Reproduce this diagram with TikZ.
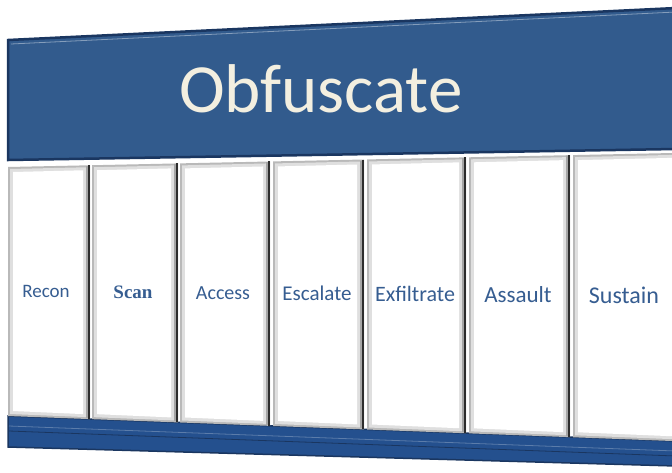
\documentclass[tikz,border=0pt]{standalone}
\usepackage{fontspec}
\setmainfont{Carlito}
\newfontfamily\labelfont{Carlito}
\newfontfamily\scanfont[UprightFont=*-Bold]{Liberation Serif}
\usepackage{xcolor}
\usetikzlibrary{calc}

\definecolor{bannerblue}{RGB}{50,91,141}
\definecolor{banneredge}{RGB}{26,54,96}
\definecolor{baseblue}{RGB}{36,80,142}
\definecolor{labelblue}{RGB}{54,93,145}
\definecolor{cream}{RGB}{243,239,224}

\begin{document}
\begin{tikzpicture}[x=1pt,y=-1pt]
  \tikzstyle{frame}=[fill=gray!55]
  \tikzstyle{face}=[fill=white]
  \tikzstyle{shadow}=[draw=gray!35!black, line width=2.2pt]
  \tikzstyle{phase}=[text=labelblue, inner sep=0pt, anchor=base]
\clip (0,0) rectangle (672,472);
\useasboundingbox (0,0) rectangle (672,472);
% header bar
\fill[bannerblue, draw=banneredge, line width=2.5pt] (8,40) -- (676,8) -- (676,149) -- (8,160) -- cycle;
\draw[bannerblue!60!white, line width=0.8pt] (11,44) -- (676,12);
\node[text=cream, anchor=base, font=\fontsize{69}{69}\selectfont] (title) at (321,112) {Obfuscate};
% foot bar
\fill[baseblue, draw=banneredge, line width=1.5pt] (8,416) -- (676,441) -- (676,466) -- (8,447) -- cycle;
\draw[baseblue!75!white, line width=0.8pt] (9,426) -- (676,451);
\draw[banneredge, line width=0.8pt] (9,431) -- (676,456);
\foreach \xl/\xr/\lx/\ly/\fs/\ff/\lbl [count=\i] in {
    8/90/46/297/19/labelfont/Recon,
    92/178/133/298/19/scanfont/Scan,
    180/270/223/299/20/labelfont/Access,
    273/364/317/300/21/labelfont/Escalate,
    367/466/415/301/22/labelfont/Exfiltrate,
    469/570/518/302/23/labelfont/Assault,
    573/684/624/303/24/labelfont/Sustain}{
    \pgfmathsetmacro\tl{167-0.02108*(\xl-8)}
    \pgfmathsetmacro\tr{167-0.02108*(\xr-8)}
    \pgfmathsetmacro\bl{416+0.03765*(\xl-8)}
    \pgfmathsetmacro\br{416+0.03765*(\xr-8)}
    \fill[frame] (\xl,\tl) -- (\xr,\tr) -- (\xr,\br) -- (\xl,\bl) -- cycle;
    \fill[gray!25] (\xl+2,\tl+2) -- (\xr-4,\tr+2) -- (\xr-4,\br-2) -- (\xl+2,\bl-2) -- cycle;
    \fill[face] (\xl+5,\tl+5) -- (\xr-7,\tr+5) -- (\xr-7,\br-5) -- (\xl+5,\bl-5) -- cycle;
    \draw[gray!70, line width=2pt] (\xr-3,\tr+1) -- (\xr-3,\br-1);
    \draw[shadow] (\xr-1,\tr) -- (\xr-1,\br);
    \node[phase, font=\csname\ff\endcsname\fontsize{\fs}{\fs}\selectfont] (ph\i) at (\lx,\ly) {\lbl};
  }
\end{tikzpicture}
\end{document}
